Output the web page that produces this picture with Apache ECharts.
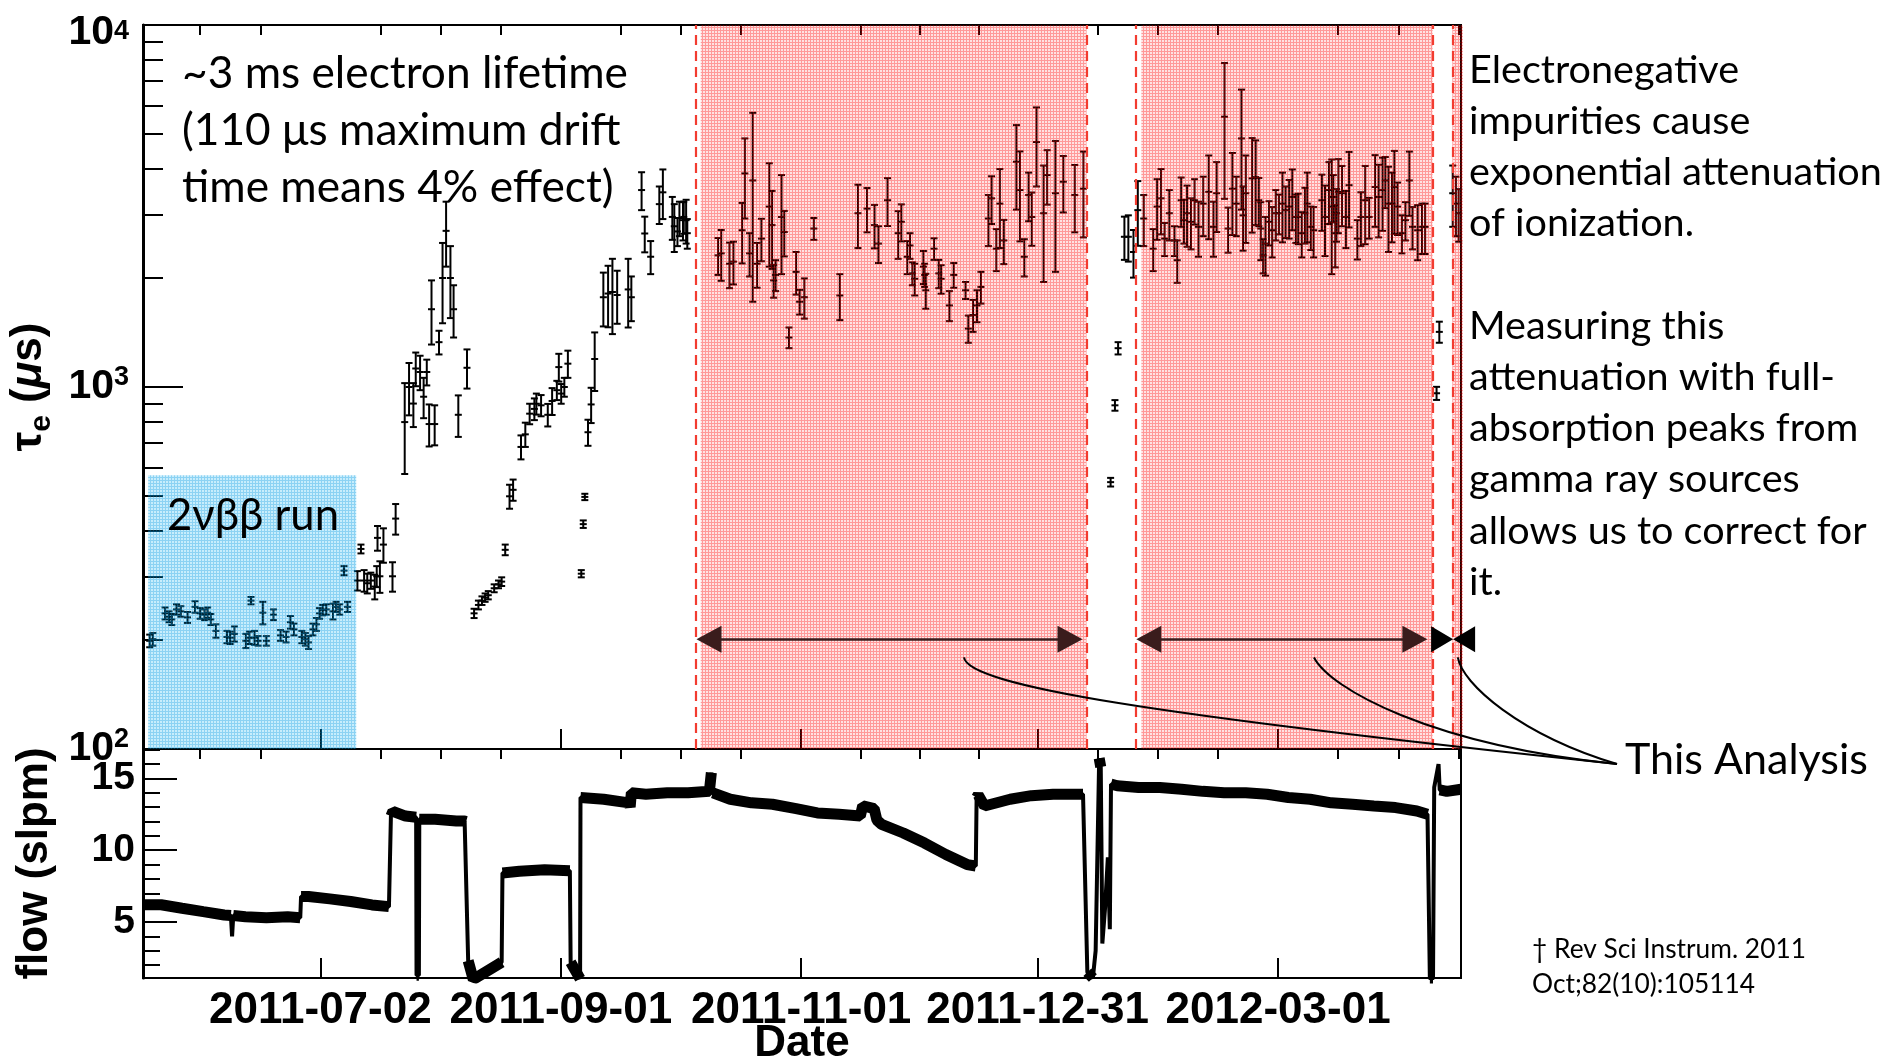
<!DOCTYPE html>
<html><head><meta charset="utf-8">
<script src="https://cdn.jsdelivr.net/npm/echarts@6/dist/echarts.min.js"></script>
<style>html,body{margin:0;padding:0;background:#fff}#c{width:1902px;height:1060px}</style>
</head><body><div id="c"></div>
<script>
// ---------------- data (day offsets from BASE_DATE) ----------------
const BASE_DATE = [2011, 4, 18];          // 2011-05-18 (UTC, month 0-based)
const X_SPAN_DAYS = 334.4;
const dateTickLabels = ['2011-07-02', '2011-09-01', '2011-11-01', '2011-12-31', '2012-03-01'];
const logMinorTicks = [200, 300, 400, 500, 600, 700, 800, 900, 2000, 3000, 4000, 5000, 6000, 7000, 8000, 9000];
const flowMajorTicks = [5, 10, 15];
const flowMinorTicks = [2, 3, 4, 6, 7, 8, 9, 11, 12, 13, 14, 16, 17];

// electron lifetime points: [day, tau (us), error (us)]
const tauBlueRun = [[1.7,199,8],[2.5,201,8],[5.6,237,9],[6.6,232,8],[7.3,228,8],[8.5,243,8],[9.6,240,8],[11.3,231,8],[13.2,247,9],[14.5,237,8],[15.6,235,8],[16.4,238,8],[17.2,228,8],[18.5,212,9],[21.3,204,8],[22.1,203,8],[23.2,208,10],[26.1,199,9],[27.0,203,8],[27.4,257,6],[28.3,203,9],[29.2,199,6],[30.4,238,17],[31.3,199,6],[33.1,235,8],[34.9,206,7],[36.3,204,7],[37.4,224,9],[38.3,214,8],[40.3,204,8],[41.2,201,8],[42.0,197,8],[43.1,214,8],[44.0,221,9],[44.8,237,8],[45.6,242,8],[46.5,243,8],[48.2,240,12],[49.0,247,8],[49.9,243,8],[51.0,311,9],[51.9,247,8]];
const tauPurification = [[54.4,292,18],[55.3,357,10],[56.1,292,20],[56.9,287,18],[57.8,292,15],[58.8,281,22],[59.3,300,20],[59.5,383,30],[60.1,300,30],[61.0,367,40],[63.3,300,28],[64.1,433,42],
[66.4,800,225],[67.5,1000,165],[68.6,900,125],[69.2,1125,120],[70.3,1100,120],[71.2,940,120],[72.0,1100,90],[72.6,790,105],[73.2,1640,330],[74.0,790,100],[75.1,1330,100],[76.0,2000,500],[76.9,2700,550],[78.0,2000,450],[78.8,1640,270],[80.0,838,110],[82.2,1130,140],
[84.0,237,7],[85.1,250,7],[86.0,257,7],[86.8,262,7],[87.6,266,7],[89.1,278,7],[90.2,285,7],[91.0,290,8],[91.9,355,12],[93.0,499,38],[93.9,520,35],[95.9,683,52],[97.0,740,57],[98.1,844,55],[99.3,870,60],[99.8,899,60],[101.0,890,60],[102.7,838,60],[103.8,915,78],[105.0,980,60],[105.5,1135,100],[106.1,959,60],[106.9,1000,60],[107.8,1160,100],
[111.2,305,7],[111.7,418,10],[112.1,497,10],[112.9,750,62],[113.7,895,100],[114.6,1195,220],[116.8,1770,300],[118.0,1812,350],[119.1,1830,430],[120.3,1795,300],[123.1,1860,400],[123.9,1770,250],[126.5,3500,420],[127.3,2655,300],[128.8,2290,240],[131.0,3200,380],[131.9,3450,540],[134.3,2950,400],[134.8,2780,420],[135.6,2690,240],[136.1,2930,320],[137.0,2890,350],[137.2,2950,300],[137.8,2890,400],[138.1,2660,250]];
const tauRange1 = [[145.9,2310,270],[146.7,2340,375],[148.8,2190,315],[149.8,2220,300],[152.0,2710,515],[152.7,3890,970],[153.9,2340,320],[154.7,3720,2000],[155.8,2190,310],[156.9,2570,345],[158.9,3150,1000],[159.6,2800,680],[160.0,1970,205],[160.5,2040,200],[162.0,2950,900],[162.7,2680,385],[163.9,1370,90],[165.7,2080,280],[166.6,1720,135],[167.8,1770,225],[170.2,2740,190],[176.8,1790,260],[181.4,3020,600],[183.7,3110,435],[185.6,2800,385],[186.6,2490,290],[188.9,3280,495],[191.6,2660,400],[192.4,2860,335],[193.9,2290,240],[194.6,2460,200],[195.2,2060,150],[195.8,1990,200],[198.0,2150,225],[198.3,2040,150],[198.6,1850,205],[200.7,2410,165],[201.9,2060,185],[202.5,1990,180],[204.6,1680,160],[205.7,2040,160],[208.7,1850,100],[209.4,1450,125],[210.6,1580,160],[211.6,1680,170],[212.6,1890,190],[214.5,2920,470],[215.3,3320,500],[216.5,2410,320],[217.4,3210,790],[218.4,2540,355],[221.6,4190,1100],[222.5,3500,975],[223.6,2290,270],[224.7,3390,520],[225.5,2950,495],[226.7,4750,1170],[228.5,3020,1070],[229.4,3850,660],[231.5,3430,1350],[233.5,3690,655],[236.4,3390,715],[238.6,3530,940]];
const tauGap1 = [[245.5,546,15],[246.6,890,30],[247.4,1280,50],[249.0,2600,355],[250.0,2600,380],[251.3,2360,355],[252.4,3080,625]];
const tauRange2 = [[253.9,2920,470],[256.3,2410,320],[257.3,3150,600],[258.3,3320,680],[259.2,2570,270],[260.4,3020,480],[261.7,2540,240],[262.4,2240,300],[263.4,3280,510],[264.1,2890,400],[264.9,3020,580],[265.9,2860,460],[266.8,3280,470],[267.8,2770,480],[269.0,3210,600],[270.4,3460,900],[271.6,2770,480],[272.4,3430,750],[274.4,5580,2270],[275.3,2740,390],[276.4,3530,900],[277.4,3210,600],[278.7,4860,1770],[279.1,2980,600],[279.8,3430,930],[281.4,3770,1100],[282.3,3800,1000],[283.1,3280,500],[283.6,2740,500],[284.2,2310,250],[284.8,2490,460],[285.7,2860,400],[286.5,2710,430],[287.4,3020,480],[288.2,3020,380],[289.1,3210,700],[289.9,3080,500],[290.8,3150,580],[291.6,3350,640],[292.5,2950,450],[293.1,2950,470],[294.0,2660,380],[294.8,3020,530],[295.4,3210,700],[296.3,2770,380],[297.0,2710,430],[299.1,3280,580],[299.9,2950,650],[300.9,3500,680],[301.6,3150,1100],[302.0,3350,500],[302.5,2660,520],[302.8,3020,500],[303.3,3460,800],[304.2,3430,650],[305.2,2950,530],[306.0,3610,850],[308.1,2570,320],[309.0,2950,500],[310.1,3280,800],[311.1,2950,380],[312.6,3570,800],[313.5,3350,760],[314.5,3500,800],[315.2,3720,600],[316.0,3210,850],[316.9,3210,700],[317.5,3570,920],[318.3,3150,520],[319.4,2660,320],[320.3,2890,350],[321.3,3720,750],[322.1,2770,370],[323.4,2710,470],[324.5,2770,440],[325.3,2770,440]];
const tauGap2 = [[328.2,961,40],[328.9,1420,95]];
const tauRange3 = [[332.3,3430,660],[333.1,3210,600],[333.8,3020,500]];

// xenon gas flow: day offsets and values (slpm)
const flowDay = [0,4.6,9.9,15.3,20.6,22.3,22.6,22.9,26.0,31.3,36.7,39.9,
 40.1,42.0,47.4,52.7,58.1,62.4,
 62.9,63.4,66.6,69.3,
 69.4,70.0,
 70.1,74.1,79.5,81.6,82.0,
 82.5,83.8,91.0,
 91.2,95.5,101.9,108.3,
 108.5,110.9,
 111.0,116.9,123.3,123.6,123.9,127.6,133.0,138.3,143.7,144.2,144.6,149.0,154.4,159.7,165.7,171.1,176.6,182.0,182.6,185.5,186.2,187.4,192.9,198.3,203.7,209.1,211.3,
 211.5,211.9,213.5,220.0,225.4,230.9,238.5,
 239.6,241.0,241.7,242.6,243.0,243.4,244.1,244.8,245.3,
 245.6,247.2,252.6,258.0,263.5,268.9,274.3,279.8,285.2,290.6,296.1,301.5,306.9,312.3,317.8,323.2,325.9,
 326.5,327.3,
 327.6,328.7,329.0,330.8,334.4];
const flowVal = [6.2,6.2,5.96,5.72,5.49,5.45,4.0,5.45,5.37,5.30,5.37,5.30,
 6.78,6.78,6.61,6.43,6.19,6.07,
 12.38,12.7,12.38,12.3,
 1.29,1.29,
 12.15,12.15,12.03,12.03,12.0,
 2.3,1.0,2.2,
 8.41,8.53,8.64,8.57,
 2.2,1.05,
 13.67,13.55,13.3,13.0,14.0,13.9,14.0,14.0,14.1,15.4,14.0,13.55,13.3,13.2,12.9,12.6,12.5,12.38,13.1,12.9,12.1,11.8,11.2,10.5,9.7,9.0,8.9,
 13.67,13.85,13.08,13.55,13.8,13.9,13.9,
 1.5,1.1,3.0,16.4,15.8,3.5,6.0,9.5,4.5,
 14.6,14.49,14.37,14.37,14.25,14.1,14.0,14.0,13.9,13.67,13.55,13.3,13.2,13.08,12.97,12.73,12.5,
 1.05,1.05,
 14.37,16.0,14.2,14.1,14.25];

// shaded periods (days) and tau extent
const blueRunDays = [1.3, 54.1];
const blueRunTauTop = 570;
const analysisStart = [141.5, 253.3, 332.2];
const analysisEnd = [239.4, 327.2, 334.9];
const dashedLineDays = [140.3, 239.4, 251.9, 327.2, 332.2, 334.6];
const arrowDays = [[143.6, 235.2], [255.2, 322.7]];
const arrowTau = 201;
const bowtieDay = 332.4;
const leaderStartDays = [208.3, 297.1, 333.6];
const leaderStartTau = 179;

// ---------------- helpers ----------------
const DAY = 86400000;
const BASE = Date.UTC(BASE_DATE[0], BASE_DATE[1], BASE_DATE[2]);
const ts = d => BASE + d * DAY;
const xMin = BASE, xMax = ts(X_SPAN_DAYS);
const majorTs = dateTickLabels.map(s => { const p = s.split('-').map(Number); return Date.UTC(p[0], p[1] - 1, p[2]); });
const minorTs = [];
{
  const s0 = (majorTs[1] - majorTs[0]) / 4;
  for (let k = 1; k <= 3; k++) if (majorTs[0] - k * s0 >= xMin) minorTs.push(majorTs[0] - k * s0);
  for (let i = 0; i < majorTs.length - 1; i++) {
    const s = (majorTs[i + 1] - majorTs[i]) / 4;
    for (let k = 1; k <= 3; k++) minorTs.push(majorTs[i] + k * s);
  }
  const sl = (majorTs[4] - majorTs[3]) / 4;
  for (let k = 1; k <= 3; k++) if (majorTs[4] + k * sl <= xMax) minorTs.push(majorTs[4] + k * sl);
}
const logMinorPos = logMinorTicks.map(v => Math.log10(v));

function makePattern(line, bg) {
  const c = document.createElement('canvas'); c.width = 3; c.height = 3;
  const g = c.getContext('2d');
  g.fillStyle = bg; g.fillRect(1, 1, 2, 2);
  g.fillStyle = line; g.fillRect(0, 0, 3, 1); g.fillRect(0, 1, 1, 2);
  return { image: c, repeat: 'repeat' };
}
const redPat = makePattern('rgba(255,0,0,0.40)', 'rgba(255,30,30,0.13)');
const bluePat = makePattern('rgba(0,155,228,0.45)', 'rgba(0,175,240,0.22)');

function fitFont(text, family, target) {
  const g = document.createElement('canvas').getContext('2d');
  g.font = '100px ' + family;
  return 100 * target / g.measureText(text).width;
}

const allTau = [].concat(tauBlueRun, tauPurification, tauRange1, tauGap1, tauRange2, tauGap2, tauRange3)
  .map(p => [ts(p[0]), p[1], p[2]]);

const flowLine = flowDay.map((d, i) => [ts(d), flowVal[i]]);
const flowBand = [];
flowLine.forEach((p, i) => {
  if (i > 0 && Math.abs(p[1] - flowLine[i - 1][1]) > 1.35) flowBand.push([p[0], null]);
  flowBand.push(p);
});

const regionData = [[ts(blueRunDays[0]), ts(blueRunDays[1]), 100, blueRunTauTop, 1]]
  .concat(analysisStart.map((s, i) => [ts(s), ts(analysisEnd[i]), 100, 10000, 0]));

// ---------------- chart ----------------
const chart = echarts.init(document.getElementById('c'), null, { renderer: 'canvas' });
const AX = 'Liberation Sans';
const tickStyle = { color: '#000', width: 2 };

function errItem(params, api) {
  const x = api.value(0), y = api.value(1), e = api.value(2);
  const c = api.coord([x, y]);
  const hi = api.coord([x, y + e]);
  const lo = api.coord([x, Math.max(y - e, 1)]);
  const w = 3.5;
  const st = () => ({ stroke: '#000', lineWidth: 2 });
  return { type: 'group', children: [
    { type: 'line', shape: { x1: c[0], y1: hi[1], x2: c[0], y2: lo[1] }, style: st() },
    { type: 'line', shape: { x1: c[0] - w, y1: hi[1], x2: c[0] + w, y2: hi[1] }, style: st() },
    { type: 'line', shape: { x1: c[0] - w, y1: lo[1], x2: c[0] + w, y2: lo[1] }, style: st() },
    { type: 'line', shape: { x1: c[0] - w, y1: c[1], x2: c[0] + w, y2: c[1] }, style: st() }
  ]};
}
function regionItem(params, api) {
  const p0 = api.coord([api.value(0), api.value(3)]);
  const p1 = api.coord([api.value(1), api.value(2)]);
  return { type: 'rect', shape: { x: p0[0], y: p0[1], width: p1[0] - p0[0], height: p1[1] - p0[1] },
    style: { fill: api.value(4) === 1 ? bluePat : redPat } };
}

const leftFont = fitFont('~3 ms electron lifetime', 'Lato', 446);
const rightFont = fitFont('exponential attenuation', 'Lato', 413);
const thisFont = fitFont('This Analysis', 'Lato', 243);
const runFont = fitFont('2νββ run', 'Lato', 172);
const refFont = fitFont('† Rev Sci Instrum. 2011', 'Lato', 274);

function txt(text, x, y, size) {
  return { type: 'text', x: x, y: y, z: 20, style: { text: text, fontFamily: 'Lato', fontSize: size, fill: '#000', verticalAlign: 'middle', align: 'left' } };
}
const leftLines = ['~3 ms electron lifetime', '(110 μs maximum drift', 'time means 4% effect)'];
const rightLines = ['Electronegative', 'impurities cause', 'exponential attenuation', 'of ionization.', '', 'Measuring this', 'attenuation with full-', 'absorption peaks from', 'gamma ray sources', 'allows us to correct for', 'it.'];
const graphics = [];
leftLines.forEach((t, i) => graphics.push(txt(t, 182, 74 + i * 57, leftFont)));
rightLines.forEach((t, i) => { if (t) graphics.push(txt(t, 1469, 70 + i * 51.2, rightFont)); });
graphics.push(txt('2νββ run', 167, 516, runFont));
graphics.push(txt('This Analysis', 1625, 760, thisFont));
graphics.push(txt('† Rev Sci Instrum. 2011', 1532, 950, refFont));
graphics.push(txt('Oct;82(10):105114', 1532, 985, refFont));

function dateLabel(v) {
  let best = '', bd = Infinity;
  majorTs.forEach((m, i) => { const d = Math.abs(m - v); if (d < bd) { bd = d; best = dateTickLabels[i]; } });
  return bd < DAY ? best : '';
}
function xAx(grid, ticks, len, withLabels) {
  const a = { type: 'value', gridIndex: grid, min: xMin, max: xMax, axisLine: { show: false }, splitLine: { show: false },
    axisTick: { show: true, inside: true, length: len, customValues: ticks, lineStyle: tickStyle },
    axisLabel: { show: false } };
  if (withLabels) {
    a.axisLabel = { show: true, customValues: majorTs, margin: 11, color: '#000', fontFamily: AX, fontWeight: 'bold', fontSize: 44, formatter: dateLabel };
    a.name = 'Date'; a.nameLocation = 'middle'; a.nameGap = 44; a.nameMoveOverlap = false;
    a.nameTextStyle = { color: '#000', fontFamily: AX, fontWeight: 'bold', fontSize: 44 };
  }
  return a;
}
const supRich = {
  b: { fontFamily: AX, fontWeight: 'bold', fontSize: 41, color: '#000', lineHeight: 46 },
  s: { fontFamily: AX, fontWeight: 'bold', fontSize: 27, color: '#000', lineHeight: 46, verticalAlign: 'top' },
  bt: { fontFamily: AX, fontWeight: 'bold', fontSize: 41, color: '#000', lineHeight: 46, padding: [16, 0, 0, 0] },
  st: { fontFamily: AX, fontWeight: 'bold', fontSize: 27, color: '#000', lineHeight: 46, verticalAlign: 'top', padding: [16, 0, 0, 0] }
};

const option = {
  animation: false,
  backgroundColor: '#fff',
  grid: [
    { left: 143, top: 25, width: 1318, height: 724, show: true, borderColor: '#000', borderWidth: 2, backgroundColor: 'transparent', containLabel: false, outerBoundsMode: 'none' },
    { left: 143, top: 749, width: 1318, height: 229, show: true, borderColor: '#000', borderWidth: 2, backgroundColor: 'transparent', containLabel: false, outerBoundsMode: 'none' }
  ],
  xAxis: [ xAx(0, majorTs, 20, false), xAx(0, minorTs, 10, false), xAx(1, majorTs, 20, true), xAx(1, minorTs, 10, false) ],
  yAxis: [
    { type: 'log', logBase: 10, gridIndex: 0, min: 100, max: 10000, position: 'left',
      axisLine: { show: true, lineStyle: { color: '#000', width: 3 } }, splitLine: { show: false },
      axisTick: { show: true, inside: true, length: 40, lineStyle: tickStyle },
      axisLabel: { show: true, margin: 14,
        formatter: v => { const e = Math.round(Math.log10(v)); return e === 4 ? '{bt|10}{st|4}' : '{b|10}{s|' + e + '}'; },
        rich: supRich },
      name: '{a|τ}{b|e}{a| (}{c|μ}{a|s)}', nameLocation: 'middle', nameRotate: 90, nameGap: 86, nameMoveOverlap: false,
      nameTextStyle: { color: '#000', rich: {
        a: { fontFamily: AX, fontWeight: 'bold', fontSize: 44, color: '#000', lineHeight: 56 },
        b: { fontFamily: AX, fontWeight: 'bold', fontSize: 30, color: '#000', lineHeight: 56, verticalAlign: 'bottom' },
        c: { fontFamily: AX, fontWeight: 'bold', fontStyle: 'italic', fontSize: 44, color: '#000', lineHeight: 56 } } } },
    { type: 'value', gridIndex: 0, min: 2, max: 4, position: 'left', axisLine: { show: false }, splitLine: { show: false },
      axisTick: { show: true, inside: true, length: 20, customValues: logMinorPos, lineStyle: tickStyle }, axisLabel: { show: false } },
    { type: 'value', gridIndex: 1, min: 1.1, max: 17.05, position: 'left',
      axisLine: { show: true, lineStyle: { color: '#000', width: 3 } }, splitLine: { show: false },
      axisTick: { show: true, inside: true, length: 34, customValues: flowMajorTicks, lineStyle: tickStyle },
      axisLabel: { show: true, customValues: flowMajorTicks, margin: 8, color: '#000', fontFamily: AX, fontWeight: 'bold', fontSize: 39 },
      name: 'flow (slpm)', nameLocation: 'middle', nameRotate: 90, nameGap: 86, nameMoveOverlap: false,
      nameTextStyle: { color: '#000', fontFamily: AX, fontWeight: 'bold', fontSize: 44 } },
    { type: 'value', gridIndex: 1, min: 1.1, max: 17.05, position: 'left', axisLine: { show: false }, splitLine: { show: false },
      axisTick: { show: true, inside: true, length: 17, customValues: flowMinorTicks, lineStyle: tickStyle }, axisLabel: { show: false } }
  ],
  series: [
    { name: 'tau', type: 'custom', xAxisIndex: 0, yAxisIndex: 0, z: 2, renderItem: errItem, encode: { x: 0, y: 1 }, data: allTau, silent: true },
    { name: 'regions', type: 'custom', xAxisIndex: 0, yAxisIndex: 0, z: 3, renderItem: regionItem, encode: { x: [0, 1], y: [2, 3] }, data: regionData, silent: true },
    { name: 'dashed', type: 'line', xAxisIndex: 0, yAxisIndex: 0, z: 4, data: [], silent: true,
      markLine: { silent: true, symbol: 'none', label: { show: false }, animation: false,
        lineStyle: { color: '#f23c30', width: 2.2, type: [10, 6] },
        data: dashedLineDays.map(d => ({ xAxis: ts(d) })) } },
    { name: 'arrows', type: 'line', xAxisIndex: 0, yAxisIndex: 0, z: 4, data: [], silent: true,
      markLine: { silent: true, symbol: ['triangle', 'triangle'], symbolSize: [27, 25], label: { show: false }, animation: false,
        lineStyle: { color: '#3a1c1c', width: 2.5, type: 'solid' },
        data: arrowDays.map(a => [{ coord: [ts(a[0]), arrowTau] }, { coord: [ts(a[1]), arrowTau] }]) },
      markPoint: { silent: true, animation: false, label: { show: false },
        data: [{ coord: [ts(bowtieDay), arrowTau], symbol: 'path://M0,0L22,13L0,26ZM44,0L22,13L44,26Z', symbolSize: [44, 26], itemStyle: { color: '#000' } }] } },
    { name: 'flowBand', type: 'line', xAxisIndex: 2, yAxisIndex: 2, data: flowBand, showSymbol: false, connectNulls: false, clip: true,
      lineStyle: { color: '#000', width: 11, join: 'bevel' }, silent: true },
    { name: 'flow', type: 'line', xAxisIndex: 2, yAxisIndex: 2, data: flowLine, showSymbol: false, clip: true,
      lineStyle: { color: '#000', width: 4 }, silent: true }
  ],
  graphic: graphics
};
chart.setOption(option);

// leader lines from the arrows to the "This Analysis" label
const labelAnchor = [1617, 764];
const ctrl = [[[4, 28], [-467, -49]], [[16, 31], [-187, -19]], [[4, 26], [-97, -29]]];
const curves = leaderStartDays.map((d, i) => {
  const p0 = chart.convertToPixel({ xAxisIndex: 0, yAxisIndex: 0 }, [ts(d), leaderStartTau]);
  return { type: 'bezierCurve', z: 20, silent: true,
    shape: { x1: p0[0], y1: p0[1], x2: labelAnchor[0], y2: labelAnchor[1],
      cpx1: p0[0] + ctrl[i][0][0], cpy1: p0[1] + ctrl[i][0][1],
      cpx2: labelAnchor[0] + ctrl[i][1][0], cpy2: labelAnchor[1] + ctrl[i][1][1] },
    style: { stroke: '#000', lineWidth: 2, fill: null } };
});
chart.setOption({ graphic: graphics.concat(curves) });
</script>
</body></html>
